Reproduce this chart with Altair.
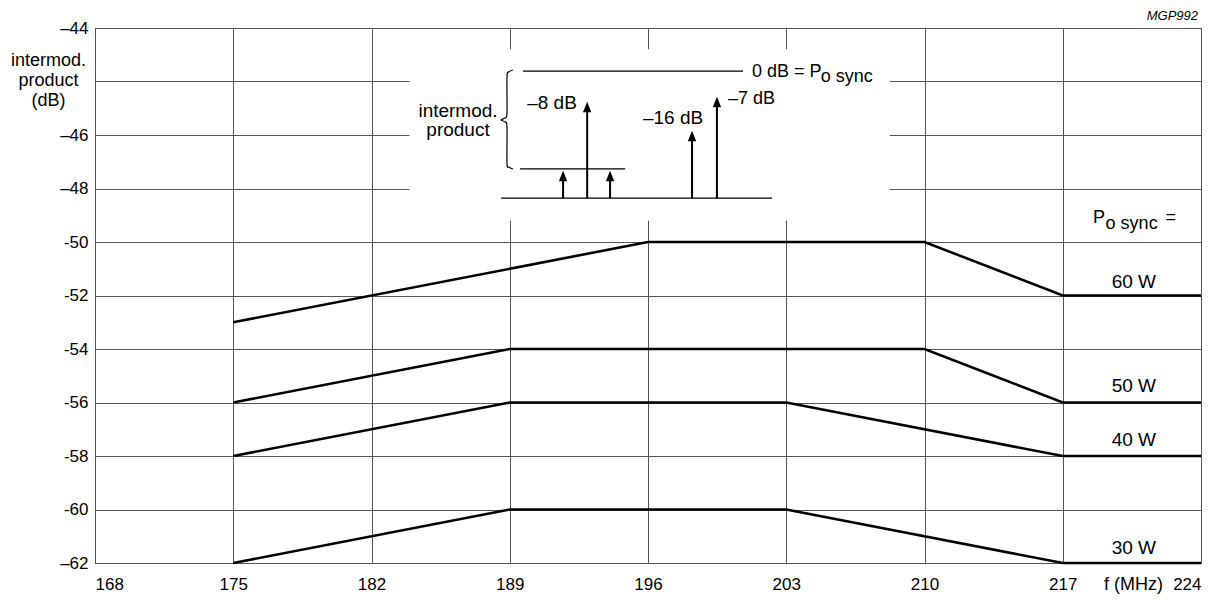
import altair as alt
import pandas as pd

# ---- main curves (intermodulation product vs frequency) ----
freq_60 = [175, 196, 210, 217, 224]
db_60 = [-53, -50, -50, -52, -52]
freq_50 = [175, 189, 210, 217, 224]
db_50 = [-56, -54, -54, -56, -56]
freq_40 = [175, 189, 203, 217, 224]
db_40 = [-58, -56, -56, -58, -58]
freq_30 = [175, 189, 203, 217, 224]
db_30 = [-62, -60, -60, -62, -62]
series_names = ["60 W", "50 W", "40 W", "30 W"]

# right-hand curve labels (data coords)
label_x = [220.6, 220.6, 220.6, 220.6]
label_y = [-51.5, -55.4, -57.4, -61.45]

# axes
x_ticks = [168, 175, 182, 189, 196, 203, 210, 217, 224]
y_ticks = [-62, -60, -58, -56, -54, -52, -50, -48, -46, -44, -42]
y_tick_labels = ["–62", "-60", "-58", "-56", "-54", "-52", "-50", "–48", "–46", "", "–44"]

# ---- inset diagram (drawn in data coordinates) ----
inset_box = {"x": [183.92], "x2": [208.23], "y": [-42.79], "y2": [-49.21]}
inset_lines_x = [189.67, 189.52, 188.56]
inset_lines_x2 = [200.81, 194.84, 202.28]
inset_lines_y = [-43.61, -47.27, -48.36]
arrow_x = [191.70, 192.92, 194.08, 198.23, 199.49]
arrow_head_y = [-47.53, -44.95, -47.53, -46.04, -44.77]
arrow_base_y = -48.36
brace_x = [189.16, 188.96, 188.86, 188.86, 188.76, 188.56, 188.76, 188.86, 188.86, 188.96, 189.16]
brace_y = [-43.57, -43.64, -43.83, -45.18, -45.36, -45.44, -45.51, -45.70, -47.05, -47.20, -47.27]

center_texts = ["intermod.", "product", "–8 dB", "–16 dB"]
center_x = [186.38, 186.38, 191.14, 197.27]
center_y = [-45.10, -45.81, -44.80, -45.36]
left_texts = ["–7 dB", "0 dB = P", "P", "="]
left_x = [200.05, 201.27, 218.53, 222.2]
left_y = [-44.65, -43.64, -49.10, -49.10]
sub_texts = ["o sync", "o sync"]
sub_x = [204.75, 219.17]
sub_y = [-43.83, -49.33]
code_text = ["MGP992"]
code_x = [224]
code_y = [-42]

FONT = "Liberation Sans"
FS = 17     # tick labels
AFS = 19    # annotations

rows = []
for name, fx, fy in zip(series_names, [freq_60, freq_50, freq_40, freq_30], [db_60, db_50, db_40, db_30]):
    for i, (a, b) in enumerate(zip(fx, fy)):
        rows.append({"series": name, "f": a, "db": b, "i": i})
curves = pd.DataFrame(rows)

xs = alt.Scale(domain=[168, 224], nice=False, zero=False)
ys = alt.Scale(domain=[-62, -42], nice=False, zero=False)

label_expr = ""
for v, l in zip(y_ticks, y_tick_labels):
    label_expr += f"datum.value == {v} ? '{l}' : "
label_expr += "''"

lines = alt.Chart(curves).mark_line(color="black", strokeWidth=2.6).encode(
    x=alt.X("f:Q", scale=xs,
            axis=alt.Axis(values=x_ticks, format="d", title="f (MHz)",
                          titleX=1038, titleY=30, titleBaseline="bottom",
                          titleAlign="center", labelPadding=13, titleFontSize=18)),
    y=alt.Y("db:Q", scale=ys,
            axis=alt.Axis(values=y_ticks, labelExpr=label_expr,
                          title=["intermod.", "product", "(dB)"],
                          titleAngle=0, titleX=-47, titleY=23,
                          titleAlign="center", titleBaseline="top",
                          titleLineHeight=20, labelPadding=7, titleFontSize=18)),
    detail="series:N",
    order="i:Q",
)

curve_labels = alt.Chart(pd.DataFrame({"t": series_names, "x": label_x, "y": label_y})).mark_text(
    font=FONT, fontSize=AFS, align="center", baseline="middle", color="black"
).encode(x=alt.X("x:Q", scale=xs), y=alt.Y("y:Q", scale=ys), text="t:N")

box = alt.Chart(pd.DataFrame(inset_box)).mark_rect(color="white", strokeWidth=0).encode(
    x=alt.X("x:Q", scale=xs), x2="x2:Q", y=alt.Y("y:Q", scale=ys), y2="y2:Q"
)

hlines = alt.Chart(pd.DataFrame({"x": inset_lines_x, "x2": inset_lines_x2, "y": inset_lines_y})).mark_rule(
    color="black", strokeWidth=1.3
).encode(x=alt.X("x:Q", scale=xs), x2="x2:Q", y=alt.Y("y:Q", scale=ys))

shafts = alt.Chart(pd.DataFrame({"x": arrow_x, "y": arrow_head_y, "y2": [arrow_base_y] * len(arrow_x)})).mark_rule(
    color="black", strokeWidth=2
).encode(x=alt.X("x:Q", scale=xs), y=alt.Y("y:Q", scale=ys), y2="y2:Q")

heads = alt.Chart(pd.DataFrame({"x": arrow_x, "y": arrow_head_y})).mark_point(
    shape="M0,-1L-0.8,1L0.8,1Z", filled=True, size=110, color="black", opacity=1
).encode(x=alt.X("x:Q", scale=xs), y=alt.Y("y:Q", scale=ys))

brace = alt.Chart(pd.DataFrame({"x": brace_x, "y": brace_y, "o": list(range(len(brace_x)))})).mark_line(
    color="black", strokeWidth=1.2, interpolate="cardinal"
).encode(x=alt.X("x:Q", scale=xs), y=alt.Y("y:Q", scale=ys), order="o:Q")

ctext = alt.Chart(pd.DataFrame({"t": center_texts, "x": center_x, "y": center_y})).mark_text(
    font=FONT, fontSize=AFS, align="center", baseline="middle", color="black"
).encode(x=alt.X("x:Q", scale=xs), y=alt.Y("y:Q", scale=ys), text="t:N")

ltext = alt.Chart(pd.DataFrame({"t": left_texts, "x": left_x, "y": left_y})).mark_text(
    font=FONT, fontSize=18, align="left", baseline="middle", color="black"
).encode(x=alt.X("x:Q", scale=xs), y=alt.Y("y:Q", scale=ys), text="t:N")

stext = alt.Chart(pd.DataFrame({"t": sub_texts, "x": sub_x, "y": sub_y})).mark_text(
    font=FONT, fontSize=18, align="left", baseline="middle", color="black"
).encode(x=alt.X("x:Q", scale=xs), y=alt.Y("y:Q", scale=ys), text="t:N")

code = alt.Chart(pd.DataFrame({"t": code_text, "x": code_x, "y": code_y})).mark_text(
    font=FONT, fontSize=13, fontStyle="italic", align="right", baseline="middle",
    color="black", dx=-3, dy=-12
).encode(x=alt.X("x:Q", scale=xs), y=alt.Y("y:Q", scale=ys), text="t:N")

chart = alt.layer(
    lines, box, hlines, shafts, heads, brace, ctext, ltext, stext, curve_labels, code
).properties(
    width=1106, height=535,
    padding={"left": 87, "top": 20, "right": 22, "bottom": 31},
    autosize=alt.AutoSizeParams(type="none"),
    background="white",
).configure_view(
    stroke="#333333", strokeWidth=1
).configure_axis(
    domain=False, ticks=False, tickSize=0, grid=True, gridColor="#555555", gridWidth=1,
    gridOpacity=1, labelFont=FONT, labelFontSize=FS, labelColor="black",
    titleFont=FONT, titleFontWeight="normal", titleColor="black",
)

chart.save("out.html", embed_options={"renderer": "svg", "actions": False})
